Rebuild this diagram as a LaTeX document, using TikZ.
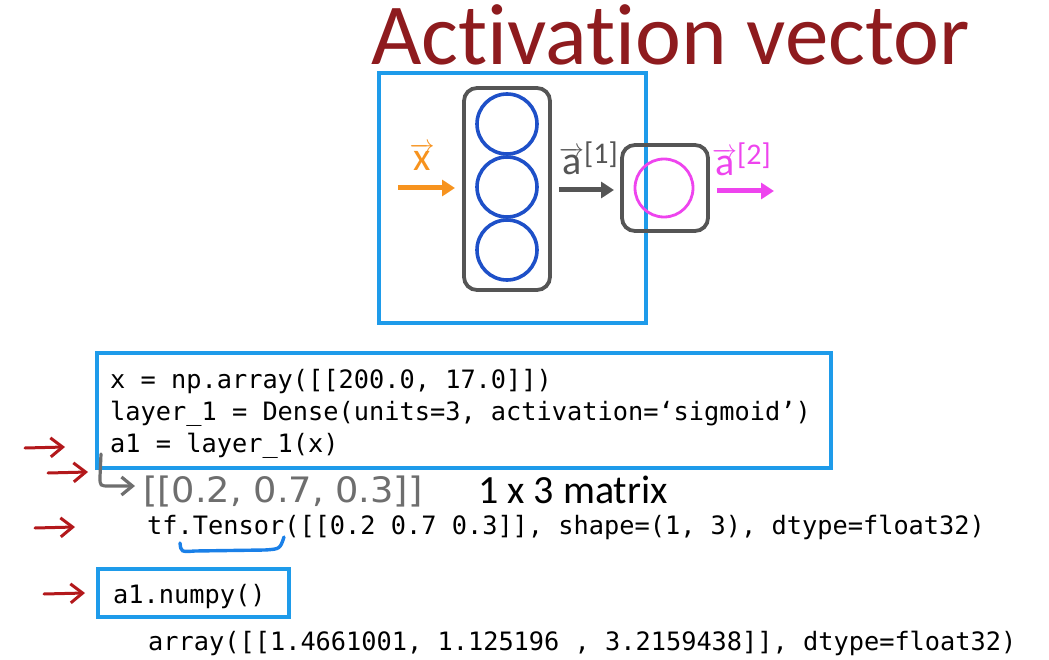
\documentclass[tikz,border=0pt]{standalone}
\usepackage{fontspec}
\setmainfont{Carlito}[Ligatures=NoCommon]
\newfontfamily\codefont{DejaVu Sans Mono}
\newfontfamily\handfont{DejaVu Sans}
\usetikzlibrary{arrows.meta}
\definecolor{titlered}{HTML}{8E1B1E}
\definecolor{boxblue}{HTML}{1E9BEA}
\definecolor{neuronblue}{HTML}{1E50C8}
\definecolor{framegray}{HTML}{555555}
\definecolor{xorange}{HTML}{F7931E}
\definecolor{amag}{HTML}{EE44EE}
\definecolor{handred}{HTML}{B3181B}
\definecolor{handgray}{HTML}{6E6E6E}
\definecolor{penblue}{HTML}{1A80E8}
\tikzset{
  bluebox/.style={draw=boxblue,line width=3.6pt},
  layerbox/.style={draw=framegray,line width=3.8pt,rounded corners=13pt},
  neuron/.style={draw=neuronblue,line width=3.6pt,circle,minimum size=60pt,inner sep=0pt},
  outneuron/.style={draw=amag,line width=2.8pt,circle,minimum size=58pt,inner sep=0pt},
  thickarrow/.style={line width=5pt,-{Triangle[length=13pt,width=16pt]}},
  redarrow/.style={draw=handred,line width=3pt,line cap=round,-{Straight Barb[length=12pt,width=19pt,line width=3pt]}},
  code/.style={anchor=base west,inner sep=0pt,font=\codefont\fontsize{25.3}{30}\selectfont},
  veclabel/.style={inner sep=0pt,font=\fontsize{40}{44}\selectfont},
}
\newcommand{\vecsym}[1]{\ensuremath{\overrightarrow{\hbox{#1}}}}
\begin{document}
\begin{tikzpicture}[x=1pt,y=-1pt]
\useasboundingbox (0,0) rectangle (1049,660);
\fill[white] (0,0) rectangle (1049,660);
% title
\node[anchor=base west,inner sep=0pt,text=titlered,font=\fontsize{87}{92}\selectfont] (title) at (371,65) {Activation vector};
% network
\draw[bluebox] (379,73) rectangle (646,323);
\draw[layerbox] (464,88) rectangle (550,290);
\node[neuron] (n1) at (507,124) {};
\node[neuron] (n2) at (507,187) {};
\node[neuron] (n3) at (507,250) {};
\draw[layerbox] (622,145) rectangle (708,231);
\node[outneuron] (n4) at (664,188) {};
\coordinate (xs) at (398,188); \coordinate (xe) at (455,188);
\draw[thickarrow,xorange] (xs) -- (xe);
\node[veclabel,text=xorange,anchor=base] (xl) at (422,171) {\vecsym{x}};
\coordinate (a1s) at (559,190); \coordinate (a1e) at (614,190);
\draw[thickarrow,framegray] (a1s) -- (a1e);
\node[veclabel,text=framegray,anchor=base west] (a1l) at (559,175) {\vecsym{a}\raisebox{11pt}{\fontsize{30}{32}\selectfont[1]}};
\coordinate (a2s) at (717,191); \coordinate (a2e) at (774,191);
\draw[thickarrow,amag] (a2s) -- (a2e);
\node[veclabel,text=amag,anchor=base west] (a2l) at (712,176) {\vecsym{a}\raisebox{11pt}{\fontsize{30}{32}\selectfont[2]}};
% code box
\draw[bluebox] (97,353) rectangle (831,468);
\node[code] (c1) at (110,388) {x = np.array([[200.0, 17.0]])};
\node[code] (c2) at (110,420) {layer\_1 = Dense(units=3, activation=‘sigmoid’)};
\node[code] (c3) at (110,452) {a1 = layer\_1(x)};
% hand arrows
\coordinate (r1s) at (25,448); \coordinate (r1e) at (65,447);
\draw[redarrow] (r1s) -- (r1e);
\coordinate (r2s) at (48,473); \coordinate (r2e) at (88,472);
\draw[redarrow] (r2s) -- (r2e);
\coordinate (r3s) at (35,528); \coordinate (r3e) at (75,527);
\draw[redarrow] (r3s) -- (r3e);
\coordinate (r4s) at (44,594); \coordinate (r4e) at (85,593);
\draw[redarrow] (r4s) -- (r4e);
% bent gray arrow
\coordinate (gs) at (101,454); \coordinate (ge) at (135,486);
\draw[handgray,line width=3.2pt,line cap=round,-{Straight Barb[length=11pt,width=18pt,line width=3.2pt]}] (gs) -- (100,477) .. controls (100,486) .. (110,486) -- (ge);
\node[anchor=base west,inner sep=0pt,text=handgray,font=\handfont\fontsize{35}{38}\selectfont,xscale=1.05] (hw) at (143,502) {[[0.2, 0.7, 0.3]]};
\node[anchor=base west,inner sep=0pt,font=\fontsize{40}{44}\selectfont] (mat) at (478,503) {1 x 3 matrix};
\node[code] (c4) at (147,534) {tf.Tensor([[0.2 0.7 0.3]], shape=(1, 3), dtype=float32)};
\draw[penblue,line width=3.4pt,line cap=round] (180,543) .. controls (181,552) .. (195,551) -- (265,550) .. controls (280,549) .. (284,537);
% numpy box
\draw[bluebox] (98,569) rectangle (289,617);
\node[code] (c5) at (113,603) {a1.numpy()};
\node[code] (c6) at (148,650) {array([[1.4661001, 1.125196 , 3.2159438]], dtype=float32)};
\end{tikzpicture}
\end{document}
